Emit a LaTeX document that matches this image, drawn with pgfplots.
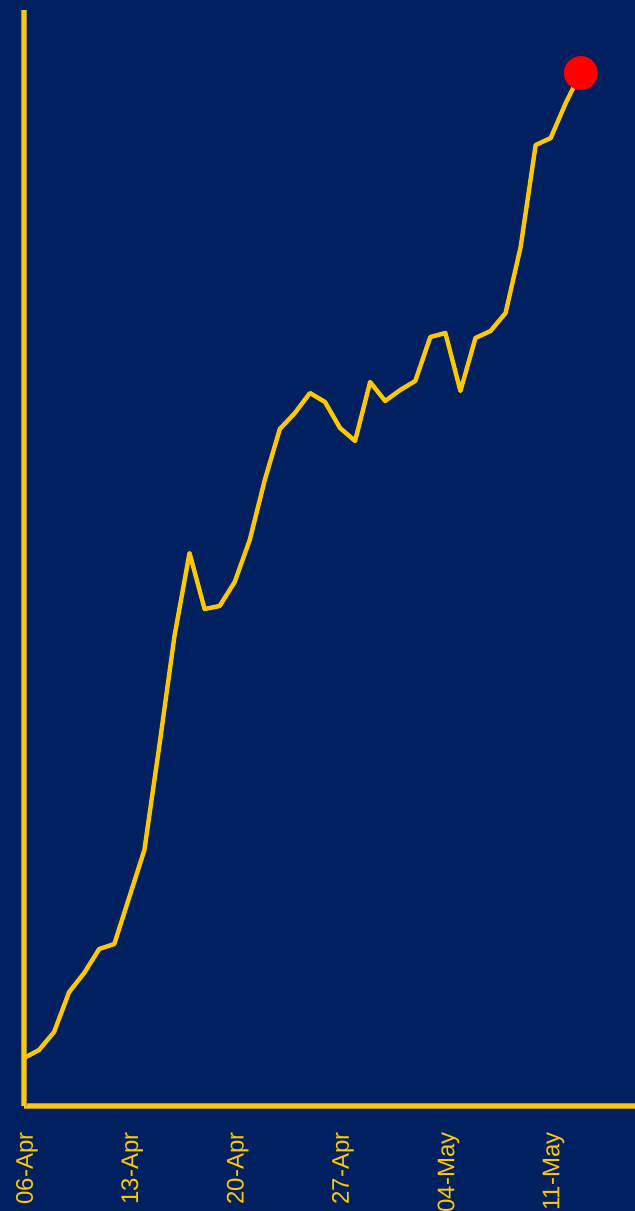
\documentclass[border=0pt]{standalone}
\usepackage{fontspec}
\setmainfont{Liberation Sans}
\usepackage{pgfplots}
\pgfplotsset{compat=1.18}
\definecolor{bg}{HTML}{002060}
\definecolor{gold}{HTML}{FFC800}
\definecolor{axedge}{HTML}{A8924A}
\begin{document}
\begin{tikzpicture}
\useasboundingbox (-12pt,-52.5pt) rectangle (305.5pt,553pt);
\clip (-12pt,-52.5pt) rectangle (305.5pt,553pt);
\fill[bg] (-12pt,-52.5pt) rectangle (305.5pt,553pt);
\begin{axis}[
  scale only axis, width=305.5pt, height=548pt,
  xmin=0, xmax=40.6, ymin=0, ymax=1096,
  axis x line*=bottom, axis y line*=left,
  axis line style={draw=axedge, line width=0.5pt, double=gold, double distance=1.6pt},
  ytick=\empty,
  xtick={0,7,14,21,28,35},
  xticklabels={06-Apr,13-Apr,20-Apr,27-Apr,04-May,11-May},
  major tick length=0pt,
  xticklabel style={rotate=90, anchor=east, inner sep=0pt, yshift=-1.5pt, font=\fontsize{12}{14}\selectfont, text=gold},
  xticklabel shift=13pt,
  clip=false,
]
\addplot[gold, line width=2.2pt, line join=round, no markers] coordinates {
(0,48) (1,56) (2,74) (3,114) (4,133) (5,157) (6,162) (7,209) (8,256) (9,361)
(10,470) (11,553) (12,497) (13,500) (14,524) (15,566) (16,626) (17,677) (18,693) (19,713)
(20,704) (21,678) (22,665) (23,724) (24,705) (25,716) (26,725) (27,769) (28,773) (29,715)
(30,768) (31,775) (32,793) (33,859) (34,961) (35,968) (36,1003) (37,1033)
};
\addplot[only marks, mark=*, mark size=8.25pt, mark options={draw=red, fill=red}] coordinates {(37,1033)};
\end{axis}
\end{tikzpicture}
\end{document}
